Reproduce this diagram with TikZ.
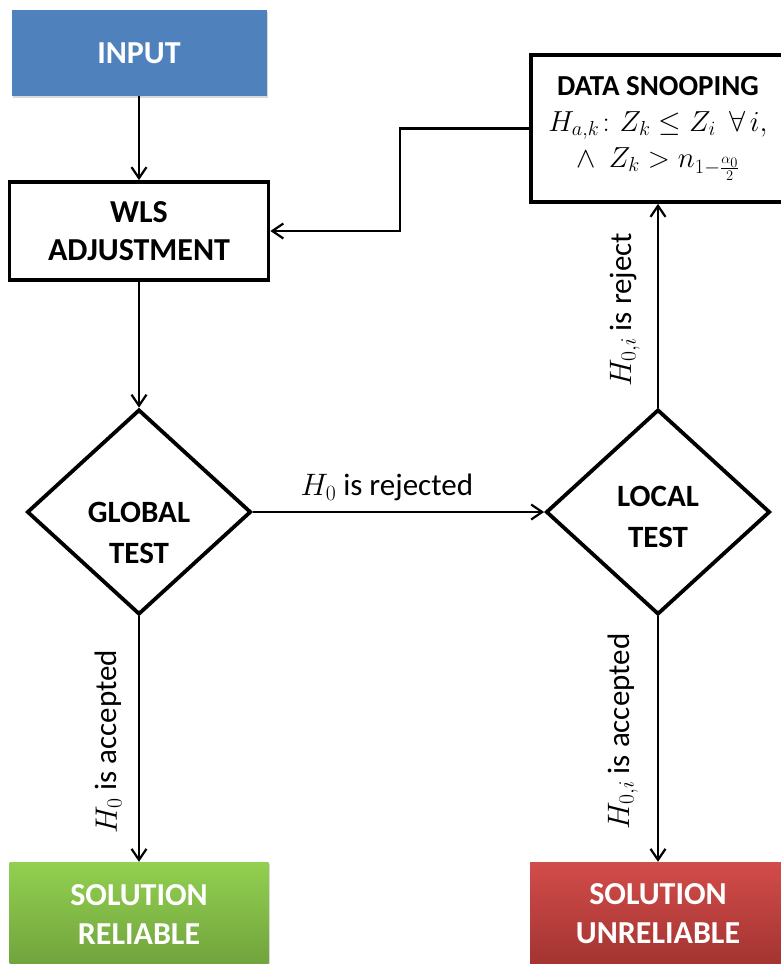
\RequirePackage{fix-cm}
\documentclass[tikz,border=0pt]{standalone}
\usepackage{amsmath}
\usepackage{amssymb}
\usepackage{fontspec}
\setmainfont{Carlito}
\usetikzlibrary{shapes,arrows.meta,positioning,shadows}

\definecolor{inputblue}{HTML}{4F81BD}
\definecolor{okgreentop}{HTML}{92D050}
\definecolor{okgreenbot}{HTML}{71A33D}
\definecolor{badredtop}{HTML}{D24C4A}
\definecolor{badredbot}{HTML}{A23431}

\tikzstyle{block} = [draw, line width=3.8pt, rectangle, align=center,
    font=\fontsize{32}{38}\selectfont\bfseries]
\tikzstyle{endblock} = [rectangle, align=center, text=white,
    font=\fontsize{32}{39}\selectfont\bfseries,
    drop shadow={shadow xshift=1pt, shadow yshift=-2pt, opacity=0.3}]
\tikzstyle{decision} = [draw, line width=3.8pt, diamond, inner sep=0pt,
    minimum width=224pt, minimum height=205pt]
\tikzstyle{decisiontext} = [align=center, font=\fontsize{31}{41}\selectfont\bfseries]
\tikzstyle{edgelabel} = [font=\fontsize{31}{36}\selectfont]
\tikzstyle{arrow} = [line width=2.2pt, -{Straight Barb[length=11pt,width=15pt,line width=2.2pt]}]

\begin{document}
\begin{tikzpicture}[x=1pt, y=-1pt]
\useasboundingbox (0,0) rectangle (781,964);

% boxes
\node[endblock, fill=inputblue, minimum width=255pt, minimum height=86pt] (input) at (139,53) {INPUT};
\node[block, minimum width=259pt, minimum height=98pt] (wls) at (139,231) {WLS\\ADJUSTMENT};
\node[block, minimum width=254pt, minimum height=147pt, font=\fontsize{29}{36}\selectfont\bfseries] (ds) at (658,128.5)
    {DATA SNOOPING\\ \normalfont $H_{a,k}\colon Z_k \leq Z_i\ \ \forall\, i,$\\ \normalfont $\wedge\ \ Z_k > n_{1-\frac{\alpha_0}{2}}$};

% tests
\node[decision, label={[decisiontext, yshift=-21pt]center:{GLOBAL\\TEST}}] (global) at (139,512) {};
\node[decision, label={[decisiontext, yshift=-5pt]center:{LOCAL\\TEST}}] (local) at (658,512) {};

% outcomes
\node[endblock, top color=okgreentop, bottom color=okgreenbot, minimum width=259pt, minimum height=104pt] (reliable) at (139,914) {SOLUTION\\RELIABLE};
\node[endblock, top color=badredtop, bottom color=badredbot, minimum width=256pt, minimum height=104pt] (unreliable) at (658,914) {SOLUTION\\UNRELIABLE};

\coordinate (back) at (400,128.5);

\draw[arrow] (input) -- (wls);
\draw[arrow] (wls) -- (global);
\draw[arrow] (global) -- node[edgelabel, pos=0.46, above=8pt, inner sep=2pt] {$H_0$ is rejected} (local);
\draw[arrow] (global) -- node[edgelabel, pos=0.51, rotate=90, anchor=south, inner ysep=16pt] {$H_0$ is accepted} (reliable);
\draw[arrow] (local) -- node[edgelabel, pos=0.48, rotate=90, anchor=south, inner ysep=17pt] {$H_{0,i}$ is reject} (ds);
\draw[arrow] (local) -- node[edgelabel, pos=0.47, rotate=90, anchor=south, inner ysep=19pt] {$H_{0,i}$ is accepted} (unreliable);
\draw[arrow] (ds.west) -- (back) |- (wls.east);
\end{tikzpicture}
\end{document}
